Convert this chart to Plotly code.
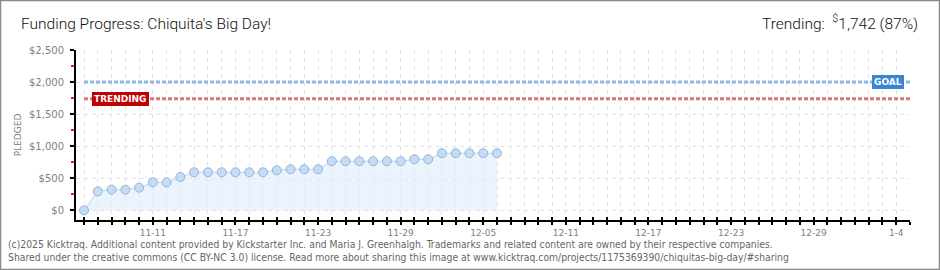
import plotly.graph_objects as go

# ---------------- data ----------------
dates = ["2025-11-06", "2025-11-07", "2025-11-08", "2025-11-09", "2025-11-10",
         "2025-11-11", "2025-11-12", "2025-11-13", "2025-11-14", "2025-11-15",
         "2025-11-16", "2025-11-17", "2025-11-18", "2025-11-19", "2025-11-20",
         "2025-11-21", "2025-11-22", "2025-11-23", "2025-11-24", "2025-11-25",
         "2025-11-26", "2025-11-27", "2025-11-28", "2025-11-29", "2025-11-30",
         "2025-12-01", "2025-12-02", "2025-12-03", "2025-12-04", "2025-12-05",
         "2025-12-06"]
pledged = [0, 297, 323, 323, 354, 437, 437, 521, 594, 594,
           594, 594, 594, 594, 625, 641, 641, 641, 766, 766,
           766, 766, 766, 766, 797, 797, 891, 891, 891, 891,
           891]
goal = 2000
trending = 1742
trending_pct = 87
tick_dates = ["2025-11-11", "2025-11-17", "2025-11-23", "2025-11-29", "2025-12-05",
              "2025-12-11", "2025-12-17", "2025-12-23", "2025-12-29", "2026-01-04"]
tick_labels = ["11-11", "11-17", "11-23", "11-29", "12-05",
               "12-11", "12-17", "12-23", "12-29", "1-4"]
x_range = ["2025-11-05 10:00", "2026-01-05 00:00"]
y_range = [-150, 2500]
title = "Funding Progress: Chiquita's Big Day!"
footer1 = ("(c)2025 Kicktraq. Additional content provided by Kickstarter Inc. and Maria J. Greenhalgh. "
           "Trademarks and related content are owned by their respective companies.")
footer2 = ("Shared under the creative commons (CC BY-NC 3.0) license. Read more about sharing this image at "
           "www.kicktraq.com/projects/1175369390/chiquitas-big-day/#sharing")

# ---------------- layout geometry ----------------
W, H = 940, 270
ML, MR, MT, MB = 76, 30, 50, 50
PW, PH = W - ML - MR, H - MT - MB


def px_x(px):
    return (px - ML) / PW


def px_y(py):
    return (H - MB - py) / PH


DAY = 86400000
GRID = "#e3e3e3"
TICKFONT = dict(family="DejaVu Sans", size=10, color="#808080")
HEADFONT = dict(family="Roboto", size=15.5, color="#111", weight=300)
FOOTFONT = dict(family="DejaVu Sans Condensed, DejaVu Sans", size=10.3, color="#666")

fig = go.Figure()

fig.add_trace(go.Scatter(
    x=dates, y=pledged, mode="lines+markers",
    line=dict(color="#bcd6f2", width=1),
    fill="tozeroy", fillcolor="rgba(222,235,250,0.6)",
    marker=dict(size=9, color="#c4dcf6", line=dict(color="#95b4d6", width=1)),
    cliponaxis=False, hoverinfo="skip", showlegend=False,
))
fig.add_trace(go.Scatter(
    x=[dates[0], x_range[1]], y=[goal, goal], mode="lines",
    line=dict(color="#8db8e6", width=3, dash="4px,2px"),
    hoverinfo="skip", showlegend=False,
))
fig.add_trace(go.Scatter(
    x=[dates[0], x_range[1]], y=[trending, trending], mode="lines",
    line=dict(color="#d77777", width=3, dash="4px,2px"),
    hoverinfo="skip", showlegend=False,
))

fig.update_layout(
    width=W, height=H,
    margin=dict(l=ML, r=MR, t=MT, b=MB, pad=0),
    paper_bgcolor="white", plot_bgcolor="white",
    showlegend=False,
    xaxis=dict(
        type="date", range=x_range,
        tickmode="array", tickvals=tick_dates, ticktext=tick_labels,
        ticks="outside", ticklen=3, tickwidth=1.5, tickcolor="black",
        showline=True, linecolor="black", linewidth=2,
        showgrid=True, gridcolor=GRID, gridwidth=1, griddash="4px,4px",
        minor=dict(dtick=DAY, tick0=dates[0], ticks="outside", ticklen=3,
                   tickwidth=1.5, tickcolor="black",
                   showgrid=True, gridcolor=GRID, gridwidth=1, griddash="4px,4px"),
        tickfont=dict(family="DejaVu Sans", size=9, color="#808080"),
        zeroline=False, fixedrange=True,
    ),
    xaxis2=dict(
        type="date", range=x_range, overlaying="x", anchor="y", side="bottom",
        tickmode="array", tickvals=tick_dates, showticklabels=False,
        ticks="inside", ticklen=3, tickwidth=1.5, tickcolor="black",
        minor=dict(dtick=DAY, tick0=dates[0], ticks="inside", ticklen=3,
                   tickwidth=1.5, tickcolor="black"),
        showgrid=False, showline=False, zeroline=False,
    ),
    yaxis=dict(
        range=y_range, tick0=0, dtick=500,
        tickprefix="$", tickformat=",d",
        ticks="outside", ticklen=4, tickwidth=1.5, tickcolor="black",
        minor=dict(dtick=250, tick0=0, ticks="outside", ticklen=3,
                   tickwidth=1.5, tickcolor="#dd2222", showgrid=False),
        showline=True, linecolor="black", linewidth=2,
        showgrid=True, gridcolor=GRID, gridwidth=1, griddash="4px,4px",
        zeroline=False, tickfont=TICKFONT, ticklabelstandoff=4,
        title=dict(text="PLEDGED", standoff=6,
                   font=dict(family="DejaVu Sans", size=9, color="#808080")),
        fixedrange=True,
    ),
)

# a hidden trace so the overlay axis is drawn
fig.add_trace(go.Scatter(x=[dates[0]], y=[pledged[0]], xaxis="x2", mode="markers",
                         marker=dict(opacity=0), hoverinfo="skip", showlegend=False))

annotations = [
    dict(text=title, xref="paper", yref="paper", x=px_x(19), y=px_y(24),
         xanchor="left", yanchor="middle", showarrow=False, font=HEADFONT),
    dict(text=f"Trending:  <sup>$</sup>{trending:,} ({trending_pct}%)", xref="paper", yref="paper",
         x=px_x(920), y=px_y(23), xanchor="right", yanchor="middle", showarrow=False,
         font=HEADFONT),
    dict(text=footer1, xref="paper", yref="paper", x=px_x(6), y=px_y(244),
         xanchor="left", yanchor="middle", showarrow=False, font=FOOTFONT),
    dict(text=footer2, xref="paper", yref="paper", x=px_x(6), y=px_y(257),
         xanchor="left", yanchor="middle", showarrow=False, font=FOOTFONT),
    dict(text="<b>TRENDING</b>", xref="x", yref="y", x=dates[0], y=trending,
         xanchor="left", yanchor="middle", xshift=8, showarrow=False,
         bgcolor="#c00000", borderpad=1, bordercolor="#c00000", borderwidth=1,
         font=dict(family="DejaVu Sans", size=9, color="white")),
    dict(text="<b>GOAL</b>", xref="paper", yref="y", x=px_x(904), y=goal,
         xanchor="right", yanchor="middle", showarrow=False,
         bgcolor="#3a86d4", borderpad=1, bordercolor="#3a86d4", borderwidth=1,
         font=dict(family="DejaVu Sans", size=9, color="white")),
]
fig.update_layout(annotations=annotations)

fig.add_shape(type="rect", xref="paper", yref="paper",
              x0=px_x(0.5), x1=px_x(939.5), y0=px_y(269.5), y1=px_y(0.5),
              line=dict(color="#8a8a8a", width=1.5), fillcolor="rgba(0,0,0,0)", layer="above")

fig.write_html("out.html")
